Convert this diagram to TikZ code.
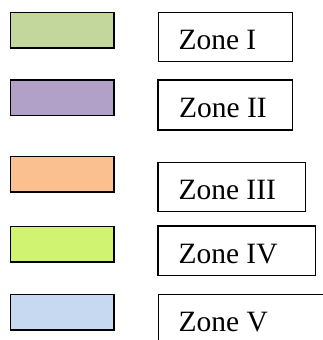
\documentclass[tikz,border=0pt]{standalone}
\usepackage{fontspec}
\setmainfont{Liberation Serif}
\definecolor{zoneone}{HTML}{C3D69B}
\definecolor{zonetwo}{HTML}{B1A0C7}
\definecolor{zonethree}{HTML}{FAC090}
\definecolor{zonefour}{HTML}{D0F472}
\definecolor{zonefive}{HTML}{C6D9F1}
\begin{document}
\begin{tikzpicture}[x=1pt,y=-1pt,
  swatch/.style={draw=black, line width=1.8pt, inner sep=0pt, outer sep=0pt,
    minimum width=103.5pt, minimum height=35.5pt, anchor=north west},
  zonebox/.style={draw=black, line width=1.3pt, inner sep=0pt, outer sep=0pt,
    anchor=north west},
  zonelabel/.style={anchor=base west, inner sep=0pt,
    font=\fontsize{29.5}{30}\selectfont}]
\useasboundingbox (0,0) rectangle (323,340);
\clip (0,0) rectangle (323,340);

% colour swatches
\node[swatch, fill=zoneone]   (s1) at (10.5,12.5)  {};
\node[swatch, fill=zonetwo]   (s2) at (10.5,80)    {};
\node[swatch, fill=zonethree] (s3) at (10.5,156.5) {};
\node[swatch, fill=zonefour]  (s4) at (10.5,226.5) {};
\node[swatch, fill=zonefive]  (s5) at (10.5,294.5) {};

% framed zone names
\node[zonebox, minimum width=134pt,   minimum height=49pt]   (b1) at (158.3,12.5)  {};
\node[zonebox, minimum width=134.5pt, minimum height=50pt]   (b2) at (158,80)      {};
\node[zonebox, minimum width=147.7pt, minimum height=49.4pt] (b3) at (158,162.3)   {};
\node[zonebox, minimum width=157.7pt, minimum height=49.5pt] (b4) at (158,226)     {};
\node[zonebox, minimum width=200pt,   minimum height=80pt]   (b5) at (158.5,294.5) {};

\node[zonelabel] (t1) at (178.3,49.3)  {Zone I};
\node[zonelabel] (t2) at (178.8,117.7) {Zone II};
\node[zonelabel] (t3) at (178.3,199.3) {Zone III};
\node[zonelabel] (t4) at (178.3,263.3) {Zone IV};
\node[zonelabel] (t5) at (178.5,331.7) {Zone V};
\end{tikzpicture}
\end{document}
